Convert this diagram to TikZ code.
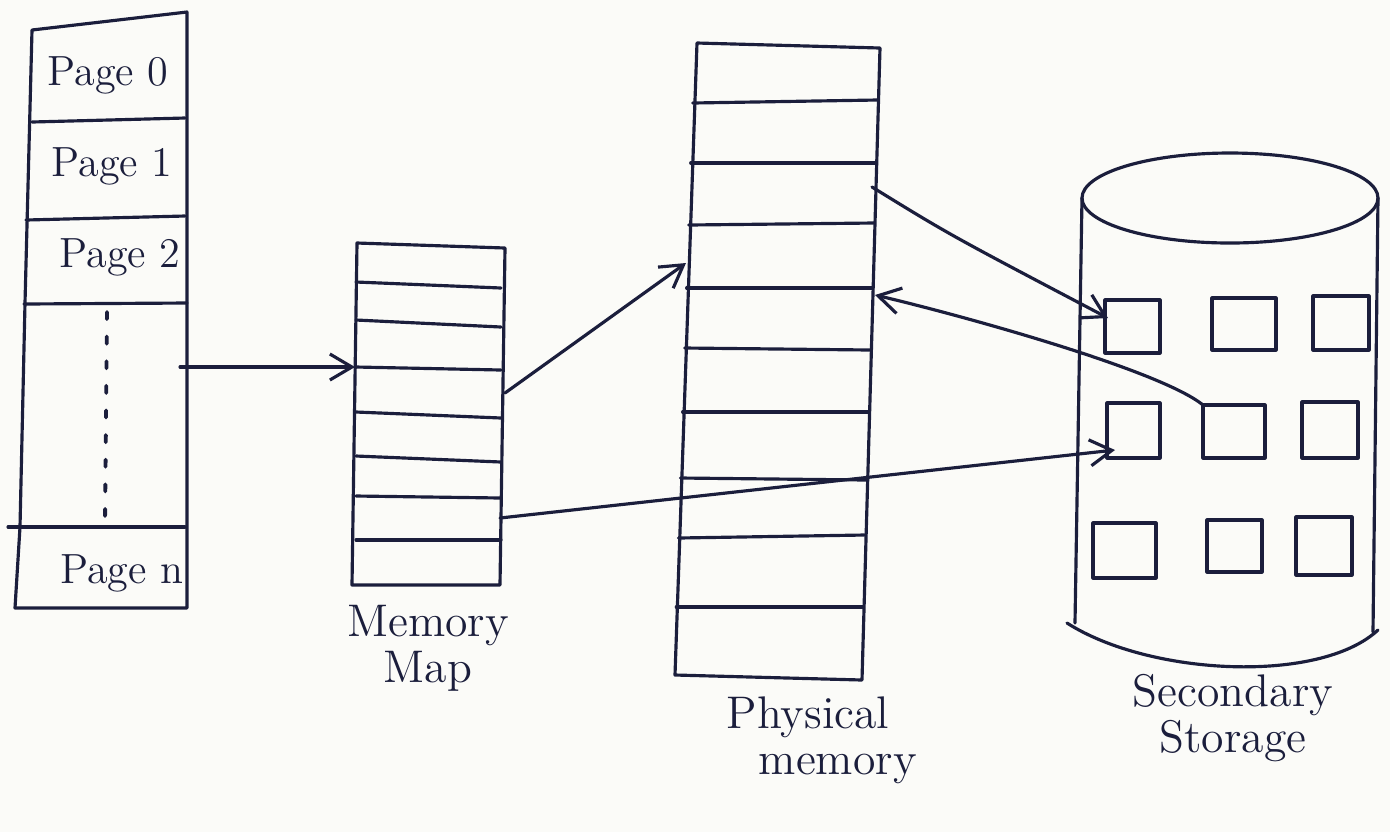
\documentclass[tikz,border=0pt]{standalone}
\usetikzlibrary{arrows.meta}
\definecolor{ink}{HTML}{1B1E3C}
\definecolor{paper}{HTML}{FBFBF8}
\begin{document}
\begin{tikzpicture}[x=0.01cm,y=-0.01cm,
  ink line/.style={draw=ink,line width=0.9pt,line cap=round,line join=round},
  link/.style={ink line,-{Straight Barb[length=2.2mm,width=2.6mm,line width=0.9pt]}},
  pagelabel/.style={text=ink,font=\fontsize{12}{14}\selectfont},
  caption/.style={text=ink,font=\fontsize{13}{15}\selectfont,align=center}]

% paper
\fill[paper] (0,0) rectangle (1390,832);
\useasboundingbox (0,0) rectangle (1390,832);

% ---------- logical pages ----------
\draw[ink line] (32,30) -- (187,12) -- (187,608) -- (15,608) -- (20,527) -- (25,303) -- (32,30);
\draw[ink line] (32,122) -- (185,118);
\draw[ink line] (26,220) -- (185,216);
\draw[ink line] (24,304) -- (187,303);
\draw[ink line] (8,527) -- (185,527);
\draw[ink, line width=1.1pt, dash pattern=on 2pt off 5pt, line cap=round] (107,312) -- (105,522);
\node[pagelabel] (p0) at (108,75) {Page 0};
\node[pagelabel] (p1) at (112,166) {Page 1};
\node[pagelabel] (p2) at (120,257) {Page 2};
\node[pagelabel] (pn) at (122,573) {Page n};
\coordinate (pages out) at (180,367);

% ---------- memory map ----------
\draw[ink line] (357,243) -- (505,248) -- (500,585) -- (352,585) -- cycle;
\foreach \yl/\yr in {282/288, 320/327, 367/370, 412/418, 456/462, 496/498, 540/540}
  \draw[ink line] (356,\yl) -- (501,\yr);
\node[caption] (mmlabel) at (428,648) {Memory\\[-2pt]Map};
\coordinate (map in) at (355,367);
\coordinate (map out a) at (505,393);
\coordinate (map out b) at (500,518);

% ---------- physical memory ----------
\draw[ink line] (697,43) -- (880,48) -- (862,680) -- (675,675) -- cycle;
\foreach \yl/\yr in {103/100, 163/163, 225/223, 288/288, 348/350, 412/412, 478/480, 538/535, 607/607}
  \draw[ink line] (693-\yl*0.0325+3,\yl) -- (880-\yl*0.0285,\yr);
\node[caption] (pmlabel) at (808,740) {Physical\\[-2pt]\hspace*{1.3em}memory};
\coordinate (phys in) at (686,263);
\coordinate (phys out) at (872,187);
\coordinate (phys back) at (875,295);

% ---------- secondary storage ----------
\draw[ink line] (1230,198) ellipse [x radius=148, y radius=45];
\draw[ink line] (1082,198) -- (1075,623);
\draw[ink line] (1378,198) -- (1373,632);
\draw[ink line] (1067,623) .. controls (1150,676) and (1320,684) .. (1378,630);
\foreach \x/\y/\w/\h [count=\i] in {
    1105/300/55/53, 1212/298/64/52, 1313/296/56/54,
    1107/403/53/55, 1203/405/62/53, 1302/402/56/56,
    1093/523/63/55, 1207/520/55/52, 1296/517/56/58}
  \draw[ink line] (\x,\y) rectangle ++(\w,\h) coordinate (win\i);
\coordinate (win a) at (1108,318);
\coordinate (win b) at (1203,405);
\coordinate (win c) at (1115,450);
\node[caption] (sslabel) at (1233,718) {Secondary\\[-2pt]Storage};

% ---------- connectors ----------
\draw[link] (pages out) -- (map in);
\draw[link] (map out a) -- (phys in);
\draw[link] (phys out) .. controls (950,235) .. (win a);
\draw[link] (win b) .. controls (1160,370) and (960,315) .. (phys back);
\draw[link] (map out b) -- (win c);
\end{tikzpicture}
\end{document}
